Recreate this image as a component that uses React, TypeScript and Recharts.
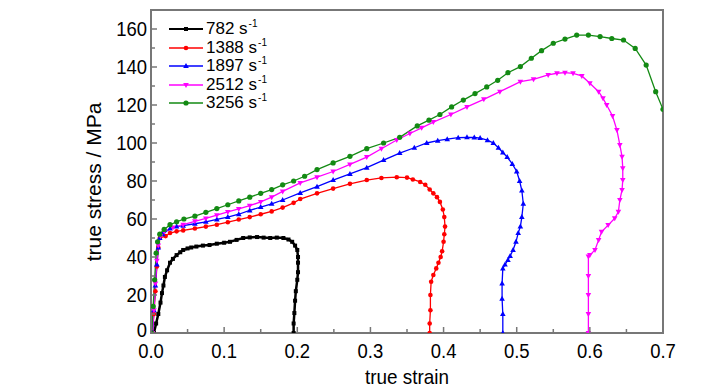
import { Label, Legend, Line, LineChart, ReferenceArea, XAxis, YAxis } from "recharts";

// strain / stress pairs, one list per strain rate
const rate782 = [
  [0.004, 0], [0.007, 5], [0.01, 10], [0.013, 16], [0.015, 21], [0.017, 25], [0.019, 29.5],
  [0.022, 33], [0.026, 37], [0.03, 39], [0.035, 41], [0.04, 42.5], [0.044, 43.7], [0.05, 44.5],
  [0.055, 45], [0.062, 45.5], [0.071, 46], [0.08, 46.3], [0.09, 47], [0.1, 47.5], [0.108, 48],
  [0.117, 49], [0.126, 50], [0.135, 50.3], [0.145, 50.5], [0.154, 50.2], [0.163, 50],
  [0.172, 50.2], [0.181, 50], [0.188, 49.2], [0.193, 48], [0.197, 46], [0.2, 43.7], [0.201, 40],
  [0.201, 37], [0.201, 32], [0.2, 28], [0.198, 22], [0.197, 17], [0.196, 10.5], [0.195, 5],
  [0.195, 0],
];

const rate1388 = [
  [0.002, 0], [0.004, 10], [0.006, 22], [0.008, 35], [0.01, 45], [0.012, 50], [0.02, 51],
  [0.026, 52.6], [0.035, 53.5], [0.044, 54], [0.06, 55], [0.075, 56], [0.09, 57], [0.105, 58.3],
  [0.12, 59.7], [0.135, 61], [0.15, 62.5], [0.165, 64], [0.18, 66], [0.195, 68.5], [0.204, 70.5],
  [0.227, 73.5], [0.249, 76], [0.272, 78.5], [0.295, 80.5], [0.315, 81.6], [0.336, 82],
  [0.35, 81.8], [0.358, 80.8], [0.368, 79.5], [0.375, 78], [0.381, 75.5], [0.386, 73.5],
  [0.391, 71.5], [0.395, 69], [0.399, 65], [0.401, 61], [0.402, 56], [0.401, 52], [0.4, 48],
  [0.398, 43], [0.396, 40], [0.393, 37], [0.39, 34], [0.386, 30.5], [0.383, 27], [0.382, 20],
  [0.382, 12], [0.381, 5], [0.381, 0],
];

const rate1897 = [
  [0.002, 0], [0.004, 12], [0.006, 25], [0.008, 36], [0.01, 45], [0.012, 50], [0.016, 52],
  [0.026, 55], [0.035, 56], [0.044, 56.5], [0.06, 57.5], [0.075, 58.5], [0.09, 59.8],
  [0.105, 61], [0.12, 62.5], [0.135, 64.5], [0.15, 66.3], [0.165, 68], [0.18, 70], [0.204, 73.7],
  [0.227, 77], [0.249, 80.5], [0.272, 83.7], [0.295, 87], [0.318, 91], [0.34, 94.7],
  [0.36, 97.5], [0.377, 100], [0.392, 101.2], [0.405, 102], [0.42, 102.8], [0.432, 103],
  [0.442, 102.9], [0.45, 102.6], [0.46, 101.5], [0.468, 100], [0.475, 97.5], [0.481, 95],
  [0.487, 92.6], [0.494, 89], [0.5, 85], [0.504, 80], [0.507, 75], [0.509, 68], [0.507, 61],
  [0.505, 56], [0.502, 52.6], [0.499, 48], [0.495, 43.7], [0.491, 40.5], [0.488, 38.4],
  [0.484, 36], [0.481, 34], [0.48, 26], [0.48, 18], [0.481, 10], [0.481, 0],
];

const rate2512 = [
  [0.002, 0], [0.004, 12], [0.006, 26], [0.008, 38], [0.01, 46], [0.013, 51], [0.018, 53.5],
  [0.03, 55.5], [0.044, 57], [0.06, 58.8], [0.075, 60.3], [0.09, 62], [0.105, 63.7],
  [0.12, 65.3], [0.135, 67], [0.15, 69], [0.165, 71.5], [0.18, 74.5], [0.204, 79], [0.227, 82],
  [0.249, 85], [0.272, 88.7], [0.295, 92.6], [0.315, 97], [0.336, 101.6], [0.354, 105],
  [0.37, 108], [0.386, 111], [0.41, 115], [0.432, 119], [0.455, 123], [0.477, 127],
  [0.505, 132.3], [0.523, 133.5], [0.543, 135.8], [0.555, 136.7], [0.566, 137], [0.577, 136.7],
  [0.589, 135.3], [0.6, 131.4], [0.612, 127], [0.618, 123.5], [0.623, 120], [0.631, 114.2],
  [0.637, 106.8], [0.641, 99], [0.644, 92.8], [0.645, 86.7], [0.645, 80.5], [0.644, 75.3],
  [0.641, 70], [0.639, 63.8], [0.634, 60.4], [0.625, 56.8], [0.616, 53.3], [0.612, 49],
  [0.607, 43.7], [0.6, 41], [0.598, 40.2], [0.598, 30], [0.598, 20], [0.598, 10], [0.598, 0],
];

const rate3256 = [
  [0.001, 0], [0.003, 14], [0.005, 28], [0.007, 42], [0.009, 48], [0.012, 52], [0.018, 54.5],
  [0.026, 57], [0.035, 58.5], [0.045, 60], [0.06, 61.5], [0.075, 63.5], [0.09, 65.5],
  [0.105, 67.5], [0.12, 69.5], [0.135, 71.5], [0.15, 73.5], [0.165, 75.5], [0.18, 78],
  [0.195, 80], [0.21, 82.5], [0.227, 86], [0.249, 89.5], [0.272, 93], [0.295, 97], [0.318, 100],
  [0.34, 103], [0.364, 109], [0.38, 112], [0.395, 115], [0.411, 119], [0.427, 122.6],
  [0.443, 126], [0.459, 129.5], [0.474, 133], [0.488, 137], [0.505, 140.2], [0.52, 144.6],
  [0.534, 148.6], [0.55, 152.5], [0.566, 154.7], [0.582, 156.8], [0.598, 156.8], [0.614, 156],
  [0.63, 155], [0.646, 154.2], [0.662, 149.8], [0.677, 141], [0.69, 127], [0.7, 117.7],
];

const rateNames = ["782", "1388", "1897", "2512", "3256"];
const strainTicks = [0, 0.05, 0.1, 0.15, 0.2, 0.25, 0.3, 0.35, 0.4, 0.45, 0.5, 0.55, 0.6, 0.65, 0.7];
const stressTicks = [0, 10, 20, 30, 40, 50, 60, 70, 80, 90, 100, 110, 120, 130, 140, 150, 160, 170];

const FONT = "'Liberation Sans', Arial, sans-serif";
const AXIS = "#777777";

type Shape = "square" | "circle" | "triangle" | "down" | "dot";

const series = [
  { name: rateNames[0], data: rate782, color: "#000000", shape: "square" as Shape, width: 2.5 },
  { name: rateNames[1], data: rate1388, color: "#ff0000", shape: "circle" as Shape, width: 1.3 },
  { name: rateNames[2], data: rate1897, color: "#0000ff", shape: "triangle" as Shape, width: 1.3 },
  { name: rateNames[3], data: rate2512, color: "#ff00ff", shape: "down" as Shape, width: 1.3 },
  { name: rateNames[4], data: rate3256, color: "#138a13", shape: "dot" as Shape, width: 1.3 },
].map((s) => ({ ...s, points: s.data.map(([x, y]) => ({ x, y })) }));

function drawMarker(shape: Shape, cx: number, cy: number, color: string, key?: string | number) {
  switch (shape) {
    case "square":
      return <rect key={key} x={cx - 2} y={cy - 2} width={4} height={4} fill={color} />;
    case "circle":
      return <circle key={key} cx={cx} cy={cy} r={2.3} fill={color} />;
    case "triangle":
      return <path key={key} d={`M${cx},${cy - 3}L${cx + 2.8},${cy + 2}L${cx - 2.8},${cy + 2}Z`} fill={color} />;
    case "down":
      return <path key={key} d={`M${cx},${cy + 3}L${cx + 2.8},${cy - 2}L${cx - 2.8},${cy - 2}Z`} fill={color} />;
    default:
      return <circle key={key} cx={cx} cy={cy} r={2.6} fill={color} />;
  }
}

function markerFor(shape: Shape, color: string) {
  return (p: any) => {
    if (p.cx == null || p.cy == null) return <g key={p.index} />;
    return drawMarker(shape, p.cx, p.cy, color, p.index);
  };
}

const isMajorStrain = (v: number) => Math.round(v * 100) % 10 === 0;
const isMajorStress = (v: number) => v % 20 === 0 && v <= 160;

function StrainTick(props: any) {
  const { x, y, payload } = props;
  const major = isMajorStrain(payload.value);
  return (
    <g>
      <line x1={x} x2={x} y1={y} y2={y - (major ? 6 : 4)} stroke={AXIS} strokeWidth={1.5} />
      {major && (
        <text
          transform={`translate(${x},${y + 25}) scale(0.88,1)`}
          textAnchor="middle"
          fontFamily={FONT}
          fontSize={21}
          fill="#000"
        >
          {payload.value.toFixed(1)}
        </text>
      )}
    </g>
  );
}

function StressTick(props: any) {
  const { x, y, payload } = props;
  if (payload.value > 160) return <g />;
  const major = isMajorStress(payload.value);
  // the zero label sits a bit higher, as in the figure
  const dy = payload.value === 0 ? 4 : 7;
  return (
    <g>
      <line x1={x} x2={x + (major ? 6 : 4)} y1={y} y2={y} stroke={AXIS} strokeWidth={1.5} />
      {major && (
        <text
          transform={`translate(${x - 4},${y + dy}) scale(0.88,1)`}
          textAnchor="end"
          fontFamily={FONT}
          fontSize={21}
          fill="#000"
        >
          {payload.value}
        </text>
      )}
    </g>
  );
}

function RateLegend() {
  return (
    <div style={{ fontFamily: FONT, color: "#000" }}>
      {series.map((s) => (
        <div key={s.name} style={{ display: "flex", alignItems: "flex-start", height: 18.5 }}>
          <svg width={36} height={18} style={{ display: "block" }}>
            <line x1={0} x2={34} y1={9} y2={9} stroke={s.color} strokeWidth={s.shape === "square" ? 2 : 1.3} />
            {drawMarker(s.shape, 17, 9, s.color)}
          </svg>
          <span style={{ fontSize: 17, lineHeight: "18px", marginLeft: 1, whiteSpace: "nowrap" }}>
            {s.name} s
          </span>
          <span style={{ fontSize: 10, lineHeight: "10px", marginLeft: 1, marginTop: -1 }}>-1</span>
        </div>
      ))}
    </div>
  );
}

export default function App() {
  return (
    <div style={{ width: 720, height: 382, background: "#fff" }}>
      <LineChart width={720} height={382} margin={{ top: 2, right: 65, bottom: 0, left: 0 }}>
        <XAxis
          type="number"
          dataKey="x"
          domain={[0, 0.7]}
          ticks={strainTicks}
          allowDataOverflow
          interval={0}
          height={57}
          tickSize={0}
          tickMargin={0}
          tickLine={false}
          tick={<StrainTick />}
          axisLine={{ stroke: AXIS, strokeWidth: 2 }}
        >
          <Label
            content={() => (
              <text
                x={0}
                y={0}
                transform="translate(399,376) scale(0.9,1)"
                textAnchor="middle"
                fontFamily={FONT}
                fontSize={21}
                fill="#000"
              >
                true strain
              </text>
            )}
          />
        </XAxis>
        <YAxis
          type="number"
          dataKey="y"
          domain={[0, 170]}
          ticks={stressTicks}
          allowDataOverflow
          interval={0}
          width={143}
          tickSize={0}
          tickMargin={0}
          tickLine={false}
          tick={<StressTick />}
          axisLine={{ stroke: AXIS, strokeWidth: 2 }}
        >
          <Label
            content={() => (
              <text
                x={0}
                y={0}
                transform="translate(93,174) rotate(-90)"
                textAnchor="middle"
                fontFamily={FONT}
                fontSize={21}
                fill="#000"
              >
                true stress / MPa
              </text>
            )}
          />
        </YAxis>
        <ReferenceArea
          x1={0}
          x2={0.7}
          y1={0}
          y2={170}
          fill="none"
          stroke={AXIS}
          strokeWidth={2}
          ifOverflow="visible"
        />
        {series.map((s) => (
          <Line
            key={s.name}
            data={s.points}
            dataKey="y"
            name={s.name}
            type="linear"
            stroke={s.color}
            strokeWidth={s.width}
            dot={markerFor(s.shape, s.color)}
            activeDot={false}
            isAnimationActive={false}
          />
        ))}
        <Legend
          layout="vertical"
          align="center"
          verticalAlign="middle"
          content={() => <RateLegend />}
          wrapperStyle={{ left: 161, top: 12, width: 140, height: 95 }}
        />
      </LineChart>
    </div>
  );
}
